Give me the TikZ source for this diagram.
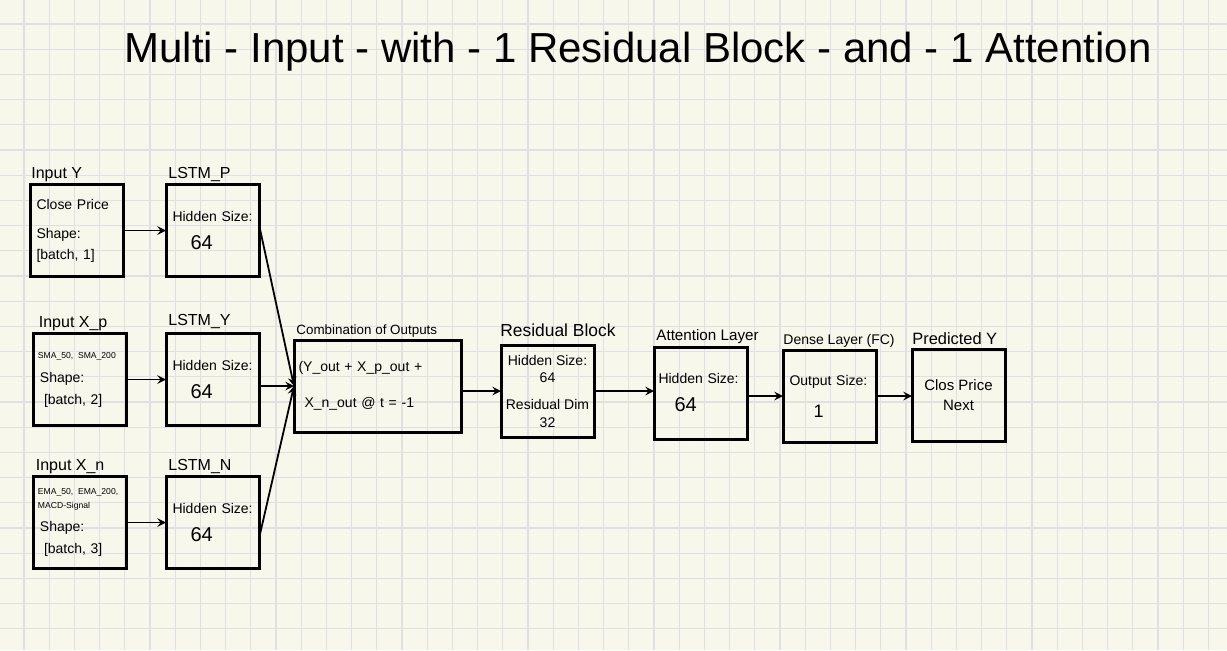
\documentclass[tikz,border=0pt]{standalone}
\usepackage{fontspec}
\setmainfont{Liberation Sans}
\usetikzlibrary{arrows, positioning}
\definecolor{paper}{RGB}{248,247,236}
\definecolor{gridgray}{RGB}{224,224,227}

\begin{document}
\begin{tikzpicture}[x=0.5pt, y=-0.5pt, node distance=20pt]
        \tikzstyle{blob} = [rectangle, minimum width=46.5pt, minimum height=46pt, inner xsep=2.25pt, inner ysep=3pt, outer sep=0pt, draw=black, line width=1.5pt, font=\fontsize{7}{10}\selectfont]
        \tikzstyle{leftblob} = [blob, text width=42pt, align=left]
        \tikzstyle{wideblob} = [blob, minimum width=83.5pt, text width=79pt, align=left]
        \tikzstyle{midblob} = [blob, align=center]
        \tikzstyle{tag} = [inner sep=1pt, font=\fontsize{8}{9}\selectfont]
        \tikzstyle{singlearrow} = [line width=0.9pt, ->, >=stealth]
        \tikzstyle{gridline} = [gridgray, line width=0.6pt]

        \useasboundingbox (0,0) rectangle (1227,650);
        \fill[paper] (0,0) rectangle (1227,650);
        \foreach \gx in {0,...,47} \draw[gridline] ({24+25.2*\gx},0) -- ({24+25.2*\gx},650);
        \foreach \gy in {0,...,24} \draw[gridline] (0,{24+25.2*\gy}) -- (1227,{24+25.2*\gy});

        \node (title) at (638,52) {\fontsize{21}{25}\selectfont Multi - Input - with - 1 Residual Block - and - 1 Attention};

        \node (inY) [leftblob] at (76.5,230.5) {\hspace*{1pt}Close Price\\[4.5pt]\hspace*{1pt}Shape:\\[0.5pt]\hspace*{1pt}{[}batch, 1{]}};
        \node (lstmP) [leftblob, right=21.5pt of inY] {\hspace*{1pt}Hidden Size:\\[4pt]\hspace*{10pt}{\fontsize{10}{12}\selectfont 64}};
        \node (inXp) [leftblob, below=28.5pt of inY, xshift=1.75pt] {\fontsize{4.3}{7}\selectfont SMA\_50, SMA\_200\\[2pt]\fontsize{7}{10}\selectfont \hspace*{1pt}Shape:\\[1pt]\hspace*{3pt}{[}batch, 2{]}};
        \node (lstmY) [leftblob, right=19.75pt of inXp] {\hspace*{1pt}Hidden Size:\\[4pt]\hspace*{10pt}{\fontsize{10}{12}\selectfont 64}};
        \node (inXn) [leftblob, below=25.5pt of inXp] {\fontsize{4.3}{7}\selectfont EMA\_50, EMA\_200,\\[0pt]MACD-Signal\\[1.5pt]\fontsize{7}{10}\selectfont \hspace*{1pt}Shape:\\[1pt]\hspace*{3pt}{[}batch, 3{]}};
        \node (lstmN) [leftblob, right=19.75pt of inXn] {\hspace*{1pt}Hidden Size:\\[4pt]\hspace*{10pt}{\fontsize{10}{12}\selectfont 64}};

        \node (comb) [wideblob, right=17.5pt of lstmY, yshift=-3.25pt] {(Y\_out + X\_p\_out +\\[8pt]\hspace*{3pt}X\_n\_out @ t = -1};
        \node (res) [midblob, right=20pt of comb, yshift=-2.5pt, font=\fontsize{7}{9}\selectfont] {Hidden Size:\\[-0.5pt]64\\[4.5pt]Residual Dim\\[0pt]32};
        \node (att) [leftblob, right=30pt of res, yshift=-1pt] {Hidden Size:\\[4pt]\hspace*{8pt}{\fontsize{10}{12}\selectfont 64}};
        \node (dense) [leftblob, right=18pt of att, yshift=-1.5pt] {\hspace*{1pt}Output Size:\\[6pt]\hspace*{13pt}{\fontsize{9}{11}\selectfont 1}};
        \node (pred) [midblob, right=18pt of dense, yshift=0.5pt, font=\fontsize{7.5}{10}\selectfont] {Clos Price\\Next};

        \node (inYtag) [tag, above right=0pt and -0.5pt of inY.north west] {Input Y};
        \node (lstmPtag) [tag, above right=0pt and 0pt of lstmP.north west] {LSTM\_P};
        \node (inXptag) [tag, above right=0pt and 1.5pt of inXp.north west] {Input X\_p};
        \node (lstmYtag) [tag, above right=1pt and 0pt of lstmY.north west] {LSTM\_Y};
        \node (inXntag) [tag, above right=0pt and 0pt of inXn.north west] {Input X\_n};
        \node (lstmNtag) [tag, above right=0pt and 0pt of lstmN.north west] {LSTM\_N};
        \node (combtag) [tag, above right=0pt and 0pt of comb.north west, font=\fontsize{6.7}{8}\selectfont] {Combination of Outputs};
        \node (restag) [tag, above right=3pt and -1.5pt of res.north west, font=\fontsize{8.7}{10}\selectfont] {Residual Block};
        \node (atttag) [tag, above right=0.5pt and 0pt of att.north west, font=\fontsize{7.6}{9}\selectfont] {Attention Layer};
        \node (densetag) [tag, above right=0pt and -1pt of dense.north west, font=\fontsize{7}{8}\selectfont] {Dense Layer (FC)};
        \node (predtag) [tag, above right=1pt and -1pt of pred.north west, font=\fontsize{8.2}{9}\selectfont] {Predicted Y};

        \draw[singlearrow] (inY) -- (lstmP);
        \draw[singlearrow] (inXp) -- (lstmY);
        \draw[singlearrow] (inXn) -- (lstmN);
        \draw[singlearrow] ([yshift=3pt]lstmP.east) -- (comb.west);
        \draw[singlearrow] (lstmY.east |- comb.west) -- (comb.west);
        \draw[singlearrow] ([yshift=-8pt]lstmN.east) -- (comb.west);
        \draw[singlearrow] (comb.east |- res.west) -- (res.west);
        \draw[singlearrow] (res.east) -- (res.east -| att.west);
        \draw[singlearrow] (att.east |- dense.west) -- (dense.west);
        \draw[singlearrow] (dense.east) -- (dense.east -| pred.west);

    \end{tikzpicture}
\end{document}
